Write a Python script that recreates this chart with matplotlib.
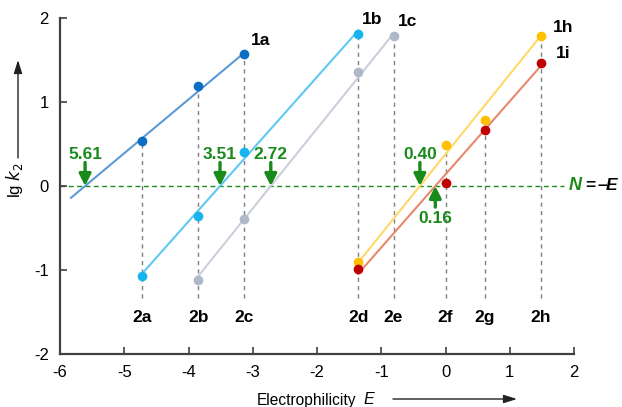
import matplotlib
matplotlib.use("Agg")
import matplotlib.pyplot as plt
import numpy as np

plt.rcParams['font.family'] = ['Liberation Sans', 'DejaVu Sans']

# Electrophiles (x positions)
electrophiles = ['2a', '2b', '2c', '2d', '2e', '2f', '2g', '2h']
E_values = [-4.72, -3.85, -3.14, -1.36, -0.81, 0.00, 0.61, 1.48]

# Nucleophile series: name, electrophiles used, lg k2 values
series_names = ['1a', '1b', '1c', '1h', '1i']
series_elec = [
    ['2a', '2b', '2c'],
    ['2a', '2b', '2c', '2d'],
    ['2b', '2c', '2d', '2e'],
    ['2d', '2f', '2g', '2h'],
    ['2d', '2f', '2g', '2h'],
]
series_lgk = [
    [0.54, 1.19, 1.57],
    [-1.07, -0.36, 0.40, 1.81],
    [-1.12, -0.39, 1.36, 1.79],
    [-0.91, 0.49, 0.79, 1.79],
    [-0.99, 0.03, 0.67, 1.46],
]
# Fit parameters: N and sN
series_N = [5.61, 3.51, 2.72, 0.40, 0.16]
series_sN = [0.64, 0.86, 0.95, 0.95, 0.87]
N_labels = ['5.61', '3.51', '2.72', '0.40', '0.16']

marker_colors = ['#0a6ec2', '#18b4ee', '#aeb8c8', '#ffc000', '#c00000']
line_colors = ['#5b9bd5', '#5fc8f2', '#c9d0dc', '#ffd966', '#e8886c']

green = '#1a8a1a'
fig = plt.figure(figsize=(6.22, 4.07), dpi=100)
ax = fig.add_axes([0.0965, 0.130, 0.8265, 0.826])
ax.set_xlim(-6, 2)
ax.set_ylim(-2, 2)

Emap = dict(zip(electrophiles, E_values))

# vertical dashed lines and labels
for name, E in zip(electrophiles, E_values):
    tops = []
    for el, lk in zip(series_elec, series_lgk):
        for e, v in zip(el, lk):
            if e == name:
                tops.append(v)
    top = max(tops)
    ax.plot([E, E], [-1.33, top], ls=(0, (3, 3)), color='#7f7f7f', lw=1.0, zorder=1)
    ax.text(E, -1.56, name, ha='center', va='center', fontsize=12.5,
            fontweight='bold', color='black')

# green N = -E line
ax.plot([-6, 1.85], [0, 0], ls=(0, (3.5, 2.5)), color=green, lw=1.0, zorder=1)
ax.text(1.91, 0, 'N', color=green, fontsize=13, ha='left', va='center',
        fontweight='bold', style='italic', clip_on=False)
ax.text(2.18, 0, '=', color='black', fontsize=12.5, ha='left', va='center',
        fontweight='bold', clip_on=False)
ax.text(2.36, 0, '–', color='black', fontsize=12.5, ha='left', va='center',
        fontweight='bold', clip_on=False)
ax.text(2.49, 0, 'E', color='black', fontsize=12.5, ha='left', va='center', fontweight='bold',
        style='italic', clip_on=False)

# fit lines and points
for i, nm in enumerate(series_names):
    Es = [Emap[e] for e in series_elec[i]]
    if nm == '1a':
        x0 = -5.83
    else:
        x0 = min(Es)
    x1 = max(Es)
    xs = np.array([x0, x1])
    ys = series_sN[i] * (series_N[i] + xs)
    ax.plot(xs, ys, color=line_colors[i], lw=1.5, zorder=2)
    ax.plot(Es, series_lgk[i], 'o', color=marker_colors[i], ms=7, zorder=3,
            markeredgewidth=0)
    offs = {'1a': (12, 10), '1b': (10, 10), '1c': (10, 10), '1h': (16, 6), '1i': (16, 7)}[nm]
    ax.annotate(nm, (Es[-1], series_lgk[i][-1]), xytext=offs, textcoords='offset points',
                ha='center', va='center', fontsize=12.5, fontweight='bold')

# green arrows at intercepts
for i, nm in enumerate(series_names):
    xE = -series_N[i]
    aprops = dict(arrowstyle='-|>,head_width=0.35,head_length=0.7',
                  color=green, lw=2.4, shrinkA=0, shrinkB=0)
    if nm == '1i':
        ax.annotate('', xy=(xE, 0.0), xytext=(xE, -0.25), arrowprops=aprops)
        ax.text(xE, -0.39, N_labels[i], color=green, ha='center', va='center',
                fontsize=12.5, fontweight='bold')
    else:
        ax.annotate('', xy=(xE, 0.0), xytext=(xE, 0.28), arrowprops=aprops)
        ax.text(xE, 0.38, N_labels[i], color=green, ha='center', va='center',
                fontsize=12.5, fontweight='bold')

# axes styling
for s in ['top', 'right']:
    ax.spines[s].set_visible(False)
for s in ['left', 'bottom']:
    ax.spines[s].set_color('#404040')
    ax.spines[s].set_linewidth(1.6)
ax.set_xticks(np.arange(-6, 3, 1))
ax.set_yticks(np.arange(-2, 3, 1))
ax.set_xticklabels([str(v) for v in range(-6, 3)])
ax.set_yticklabels([str(v) for v in range(-2, 3)])
ax.tick_params(direction='in', length=5, width=1.2, color='#404040', labelsize=12,
               pad=8)

# axis labels with arrows
fig.text(257 / 622, 1 - 400 / 407, 'Electrophilicity', ha='left', va='center', fontsize=11.2)
fig.text(364 / 622, 1 - 400 / 407, 'E', ha='left', va='center', fontsize=11.5, style='italic')
ax.annotate('', xy=(517, 407 - 399), xytext=(393, 407 - 399), xycoords='figure pixels',
            textcoords='figure pixels', annotation_clip=False,
            arrowprops=dict(arrowstyle='-|>,head_width=0.25,head_length=0.8',
                            color='#222222', lw=1.0, shrinkA=0, shrinkB=0))
fig.text(15 / 622, 1 - 180 / 407, r'lg $k_2$', rotation=90, ha='center', va='center', fontsize=12)
ax.annotate('', xy=(18, 407 - 60), xytext=(18, 407 - 158), xycoords='figure pixels',
            textcoords='figure pixels', annotation_clip=False,
            arrowprops=dict(arrowstyle='-|>,head_width=0.25,head_length=0.8',
                            color='#222222', lw=1.0, shrinkA=0, shrinkB=0))

fig.savefig('out.png', dpi=100)
